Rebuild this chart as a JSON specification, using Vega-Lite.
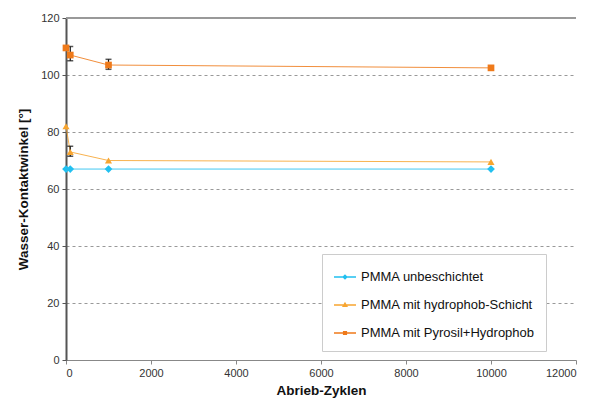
{
  "$schema": "https://vega.github.io/schema/vega-lite/v6.json",
  "width": 510,
  "height": 342,
  "autosize": {"type": "none"},
  "padding": {"left": 66, "top": 18, "right": 19, "bottom": 40},
  "background": "white",
  "config": {"view": {"stroke": null}, "font": "Liberation Sans"},
  "data": {"values": [
    {"series": "PMMA unbeschichtet", "x": 0, "y": 67},
    {"series": "PMMA unbeschichtet", "x": 100, "y": 67},
    {"series": "PMMA unbeschichtet", "x": 1000, "y": 67},
    {"series": "PMMA unbeschichtet", "x": 10000, "y": 67},
    {"series": "PMMA mit hydrophob-Schicht", "x": 0, "y": 82},
    {"series": "PMMA mit hydrophob-Schicht", "x": 100, "y": 73, "lo": 71.5, "hi": 75},
    {"series": "PMMA mit hydrophob-Schicht", "x": 1000, "y": 70},
    {"series": "PMMA mit hydrophob-Schicht", "x": 10000, "y": 69.5},
    {"series": "PMMA mit Pyrosil+Hydrophob", "x": 0, "y": 109.5},
    {"series": "PMMA mit Pyrosil+Hydrophob", "x": 100, "y": 107, "lo": 105, "hi": 110},
    {"series": "PMMA mit Pyrosil+Hydrophob", "x": 1000, "y": 103.5, "lo": 102, "hi": 105.5},
    {"series": "PMMA mit Pyrosil+Hydrophob", "x": 10000, "y": 102.5}
  ]},
  "layer": [
    {
      "transform": [{"filter": "datum.series === 'PMMA unbeschichtet'"}],
      "mark": {"type": "line", "strokeWidth": 1, "color": "#22c0f0", "opacity": 0.85},
      "encoding": {
        "x": {"field": "x", "type": "quantitative", "title": "Abrieb-Zyklen",
          "scale": {"domain": [0, 12000], "nice": false},
          "axis": {"values": [0, 2000, 4000, 6000, 8000, 10000, 12000], "format": "d", "grid": false,
            "domainColor": "#888", "tickColor": "#888", "tickSize": 4, "labelFontSize": 11, "labelColor": "#333",
            "labelPadding": 3, "titleFontSize": 13.5, "titleFontWeight": "bold", "titleColor": "#111", "titlePadding": 5}},
        "y": {"field": "y", "type": "quantitative", "title": "Wasser-Kontaktwinkel [°]",
          "scale": {"domain": [0, 120], "nice": false},
          "axis": {"values": [0, 20, 40, 60, 80, 100, 120], "grid": true, "gridDash": [3, 3], "gridColor": "#999",
            "domainColor": "#555", "domainWidth": 2, "tickColor": "#555", "tickSize": 4, "labelFontSize": 11,
            "labelColor": "#333", "labelPadding": 3, "titleFontSize": 13.5, "titleFontWeight": "bold", "titleColor": "#111", "titlePadding": 10}}
      }
    },
    {
      "transform": [{"filter": "datum.series === 'PMMA mit hydrophob-Schicht'"}],
      "mark": {"type": "line", "strokeWidth": 1, "color": "#f7a530", "opacity": 0.85},
      "encoding": {
        "x": {"field": "x", "type": "quantitative", "title": "Abrieb-Zyklen"},
        "y": {"field": "y", "type": "quantitative", "title": "Wasser-Kontaktwinkel [°]"}
      }
    },
    {
      "transform": [{"filter": "datum.series === 'PMMA mit Pyrosil+Hydrophob'"}],
      "mark": {"type": "line", "strokeWidth": 1, "color": "#ef7a1a", "opacity": 0.85},
      "encoding": {
        "x": {"field": "x", "type": "quantitative", "title": "Abrieb-Zyklen"},
        "y": {"field": "y", "type": "quantitative", "title": "Wasser-Kontaktwinkel [°]"}
      }
    },
    {
      "mark": {"type": "rule", "color": "#999", "strokeWidth": 1},
      "encoding": {"y": {"datum": 120, "type": "quantitative", "title": "Wasser-Kontaktwinkel [°]"}}
    },
    {
      "transform": [{"filter": "isValid(datum.lo)"}],
      "mark": {"type": "rule", "color": "#111", "strokeWidth": 1.2},
      "encoding": {
        "x": {"field": "x", "type": "quantitative", "title": "Abrieb-Zyklen"},
        "y": {"field": "lo", "type": "quantitative", "title": "Wasser-Kontaktwinkel [°]"},
        "y2": {"field": "hi"}
      }
    },
    {
      "transform": [{"filter": "isValid(datum.lo)"}],
      "mark": {"type": "tick", "orient": "horizontal", "color": "#111", "size": 6, "thickness": 1.5},
      "encoding": {
        "x": {"field": "x", "type": "quantitative", "title": "Abrieb-Zyklen"},
        "y": {"field": "lo", "type": "quantitative", "title": "Wasser-Kontaktwinkel [°]"}
      }
    },
    {
      "transform": [{"filter": "isValid(datum.hi)"}],
      "mark": {"type": "tick", "orient": "horizontal", "color": "#111", "size": 6, "thickness": 1.5},
      "encoding": {
        "x": {"field": "x", "type": "quantitative", "title": "Abrieb-Zyklen"},
        "y": {"field": "hi", "type": "quantitative", "title": "Wasser-Kontaktwinkel [°]"}
      }
    },
    {
      "transform": [{"filter": "datum.series === 'PMMA unbeschichtet'"}],
      "mark": {"type": "point", "filled": true, "opacity": 1, "size": 60, "shape": "diamond", "color": "#22c0f0"},
      "encoding": {
        "x": {"field": "x", "type": "quantitative", "title": "Abrieb-Zyklen"},
        "y": {"field": "y", "type": "quantitative", "title": "Wasser-Kontaktwinkel [°]"}
      }
    },
    {
      "transform": [{"filter": "datum.series === 'PMMA mit hydrophob-Schicht'"}],
      "mark": {"type": "point", "filled": true, "opacity": 1, "size": 50, "shape": "triangle-up", "color": "#f7a530"},
      "encoding": {
        "x": {"field": "x", "type": "quantitative", "title": "Abrieb-Zyklen"},
        "y": {"field": "y", "type": "quantitative", "title": "Wasser-Kontaktwinkel [°]"}
      }
    },
    {
      "transform": [{"filter": "datum.series === 'PMMA mit Pyrosil+Hydrophob'"}],
      "mark": {"type": "point", "filled": true, "opacity": 1, "size": 45, "shape": "square", "color": "#ef7a1a"},
      "encoding": {
        "x": {"field": "x", "type": "quantitative", "title": "Abrieb-Zyklen"},
        "y": {"field": "y", "type": "quantitative", "title": "Wasser-Kontaktwinkel [°]"}
      }
    },
    {
      "mark": {"type": "point", "filled": true, "opacity": 0},
      "encoding": {
        "x": {"field": "x", "type": "quantitative", "title": "Abrieb-Zyklen"},
        "y": {"field": "y", "type": "quantitative", "title": "Wasser-Kontaktwinkel [°]"},
        "fill": {"field": "series", "type": "nominal",
          "scale": {"domain": ["PMMA unbeschichtet", "PMMA mit hydrophob-Schicht", "PMMA mit Pyrosil+Hydrophob"],
                    "range": ["#22c0f0", "#f7a530", "#ef7a1a"]},
          "legend": {"orient": "none", "legendX": 256, "legendY": 236, "title": null, "padding": 11,
            "strokeColor": "#ccc", "fillColor": "white", "labelFontSize": 13, "labelColor": "#111", "labelOffset": 4,
            "labelLimit": 300, "rowPadding": 9, "symbolSize": 484, "symbolStrokeWidth": 1.3, "symbolOpacity": 1}},
        "stroke": {"field": "series", "type": "nominal",
          "scale": {"domain": ["PMMA unbeschichtet", "PMMA mit hydrophob-Schicht", "PMMA mit Pyrosil+Hydrophob"],
                    "range": ["#22c0f0", "#f7a530", "#ef7a1a"]},
          "legend": {"orient": "none", "legendX": 256, "legendY": 236, "title": null, "padding": 11,
            "strokeColor": "#ccc", "fillColor": "white", "labelFontSize": 13, "labelColor": "#111", "labelOffset": 4,
            "labelLimit": 300, "rowPadding": 9, "symbolSize": 484, "symbolStrokeWidth": 1.3, "symbolOpacity": 1}},
        "shape": {"field": "series", "type": "nominal",
          "scale": {"domain": ["PMMA unbeschichtet", "PMMA mit hydrophob-Schicht", "PMMA mit Pyrosil+Hydrophob"],
                    "range": ["M-1,0H1M0,-0.17L0.17,0L0,0.17L-0.17,0Z", "M-1,0H1M0,-0.17L0.17,0.13L-0.17,0.13Z", "M-1,0H1M-0.13,-0.13H0.13V0.13H-0.13Z"]},
          "legend": {"orient": "none", "legendX": 256, "legendY": 236, "title": null, "padding": 11,
            "strokeColor": "#ccc", "fillColor": "white", "labelFontSize": 13, "labelColor": "#111", "labelOffset": 4,
            "labelLimit": 300, "rowPadding": 9, "symbolSize": 484, "symbolStrokeWidth": 1.3, "symbolOpacity": 1}}
      }
    }
  ]
}
